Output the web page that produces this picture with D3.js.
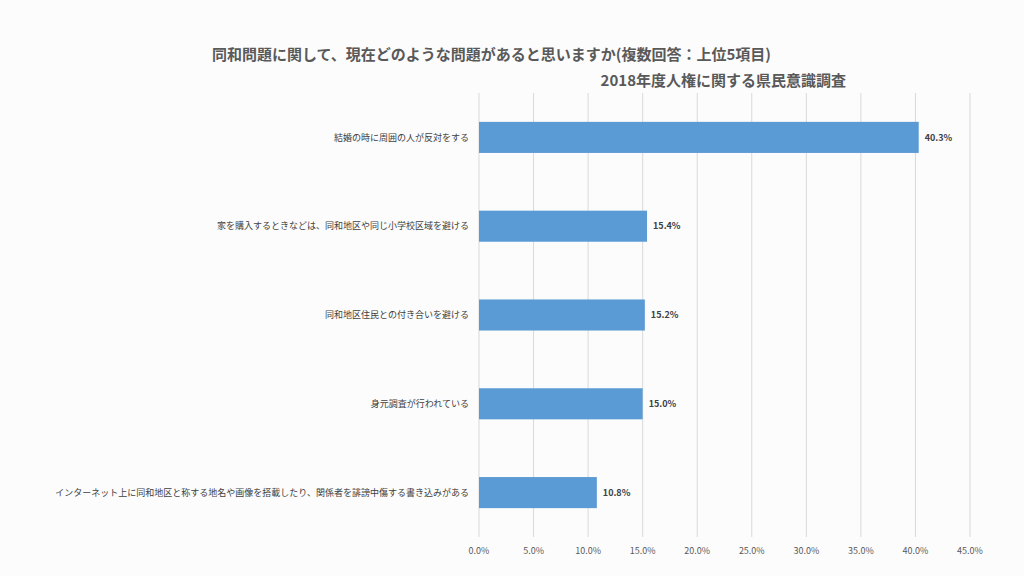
<!DOCTYPE html>
<html><head><meta charset="utf-8">
<script src="https://cdn.jsdelivr.net/npm/d3@7"></script>
<style>body{margin:0;background:#fff;font-family:"Noto Sans CJK JP","Noto Sans",sans-serif;}</style>
</head><body><div id="chart"></div>
<script>
const categories = [
  "結婚の時に周囲の人が反対をする",
  "家を購入するときなどは、同和地区や同じ小学校区域を避ける",
  "同和地区住民との付き合いを避ける",
  "身元調査が行われている",
  "インターネット上に同和地区と称する地名や画像を搭載したり、関係者を誹謗中傷する書き込みがある"
];
const values = [40.3, 15.4, 15.2, 15.0, 10.8];
const ticks = [0, 5, 10, 15, 20, 25, 30, 35, 40, 45];

const width = 1024, height = 576;
const svg = d3.select("#chart").append("svg").attr("width", width).attr("height", height);
svg.append("rect").attr("width", width).attr("height", height).attr("fill", "#fcfcfc");

const x = d3.scaleLinear().domain([0, 45]).range([479, 970]);
const y = d3.scaleBand().domain(categories).range([93, 537]).paddingInner(0.65).paddingOuter(0.325);

// gridlines
svg.selectAll(".grid").data(ticks).join("line")
  .attr("x1", d => x(d)).attr("x2", d => x(d))
  .attr("y1", 93).attr("y2", 537)
  .attr("stroke", "#d9d9d9").attr("stroke-width", 1);

svg.selectAll(".bar").data(values).join("rect")
  .attr("x", x(0)).attr("y", (d, i) => y(categories[i]))
  .attr("width", d => x(d) - x(0)).attr("height", y.bandwidth())
  .attr("fill", "#5b9bd5");

svg.selectAll(".val").data(values).join("text")
  .attr("x", d => x(d) + 6).attr("y", (d, i) => y(categories[i]) + y.bandwidth() / 2)
  .attr("dy", "0.35em").attr("font-size", 9).attr("font-weight", "bold").attr("fill", "#404040")
  .text(d => d.toFixed(1) + "%");

svg.selectAll(".cat").data(categories).join("text")
  .attr("x", 469).attr("y", d => y(d) + y.bandwidth() / 2)
  .attr("dy", "0.35em").attr("text-anchor", "end")
  .attr("font-size", 9).attr("fill", "#404040")
  .text(d => d);

svg.selectAll(".tick").data(ticks).join("text")
  .attr("x", d => x(d)).attr("y", 551).attr("dy", "0.35em").attr("text-anchor", "middle")
  .attr("font-size", 9).attr("fill", "#595959")
  .text(d => d.toFixed(1) + "%");

svg.append("text").attr("x", 212).attr("y", 60)
  .attr("font-size", 15).attr("font-weight", "bold").attr("fill", "#595959")
  .text("同和問題に関して、現在どのような問題があると思いますか(複数回答：上位5項目)");
svg.append("text").attr("x", 846).attr("y", 86).attr("text-anchor", "end")
  .attr("font-size", 15).attr("font-weight", "bold").attr("fill", "#595959")
  .text("2018年度人権に関する県民意識調査");
</script></body></html>
